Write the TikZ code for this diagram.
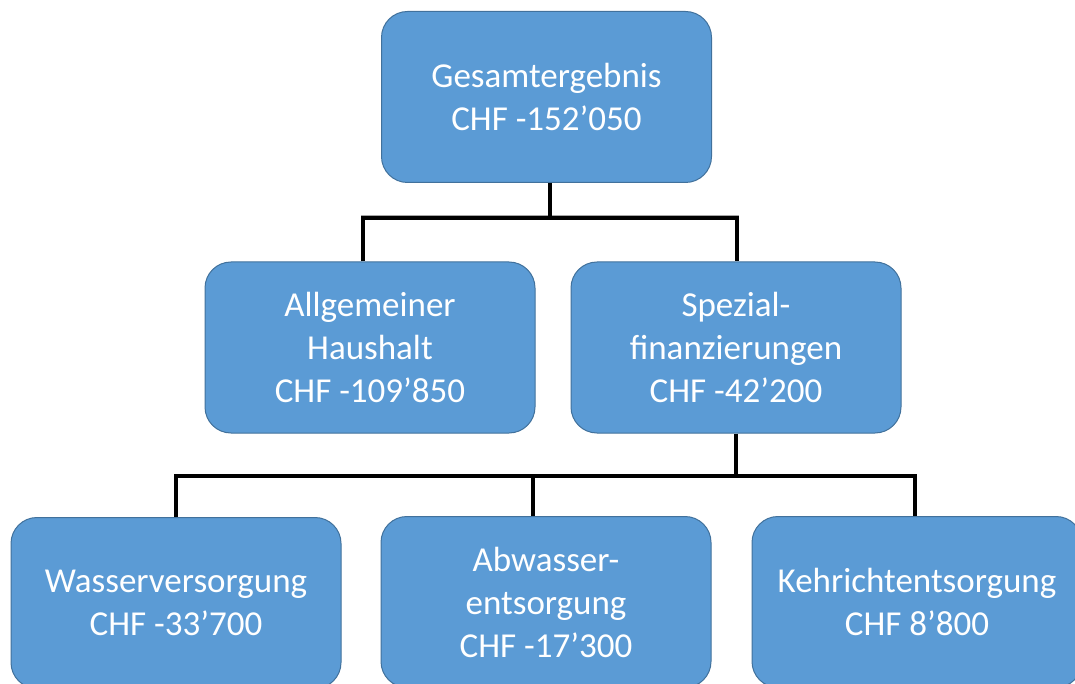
\documentclass[tikz,border=0pt]{standalone}
\usepackage{fontspec}
\setmainfont{Carlito}
\definecolor{boxfill}{HTML}{5B9BD5}
\definecolor{boxline}{HTML}{41719C}
\tikzset{
  box/.style={rectangle, rounded corners=26pt, minimum width=330pt, minimum height=171pt,
    fill=boxfill, draw=boxline, line width=1pt, text=white, align=center,
    font=\fontsize{35}{43}\selectfont, inner sep=0pt},
  conn/.style={draw=black, line width=3.5pt},
  shade/.style={draw=gray!70, line width=1.5pt}
}
\begin{document}
\begin{tikzpicture}[x=1pt,y=1pt]
\useasboundingbox (0,0) rectangle (1075,-684);
\clip (0,0) rectangle (1075,-684);
\node[box] (top) at (546.5,-97) {Gesamtergebnis\\CHF -152’050};
\node[box] (ml) at (370,-347.5) {Allgemeiner\\Haushalt\\CHF -109’850};
\node[box] (mr) at (736,-347.5) {Spezial-\\finanzierungen\\CHF -42’200};
\node[box] (bl) at (176,-603) {Wasserversorgung\\CHF -33’700};
\node[box] (bm) at (546,-602) {Abwasser-\\entsorgung\\CHF -17’300};
\node[box] (br) at (917,-602) {Kehrichtentsorgung\\CHF 8’800};
% top bus
\coordinate (b1) at (0,-218);
\coordinate (b2) at (0,-476);
\draw[shade] ([xshift=-9pt]ml.north |- 0,-215.5) -- ([xshift=3pt]mr.north |- 0,-215.5);
\draw[conn] ([xshift=3.5pt]top.south) -- ([xshift=3.5pt]top.south |- b1);
\draw[conn] ([xshift=-7pt]ml.north) -- ([xshift=-7pt]ml.north |- b1) -- ([xshift=1pt]mr.north |- b1) -- ([xshift=1pt]mr.north);
% bottom bus
\draw[conn] (mr.south) -- (mr.south |- b2);
\draw[conn] (bl.north) -- (bl.north |- b2) -- ([xshift=-2pt]br.north |- b2) -- ([xshift=-2pt]br.north);
\draw[conn] ([xshift=-13pt]bm.north) -- ([xshift=-13pt]bm.north |- b2);
\end{tikzpicture}
\end{document}
